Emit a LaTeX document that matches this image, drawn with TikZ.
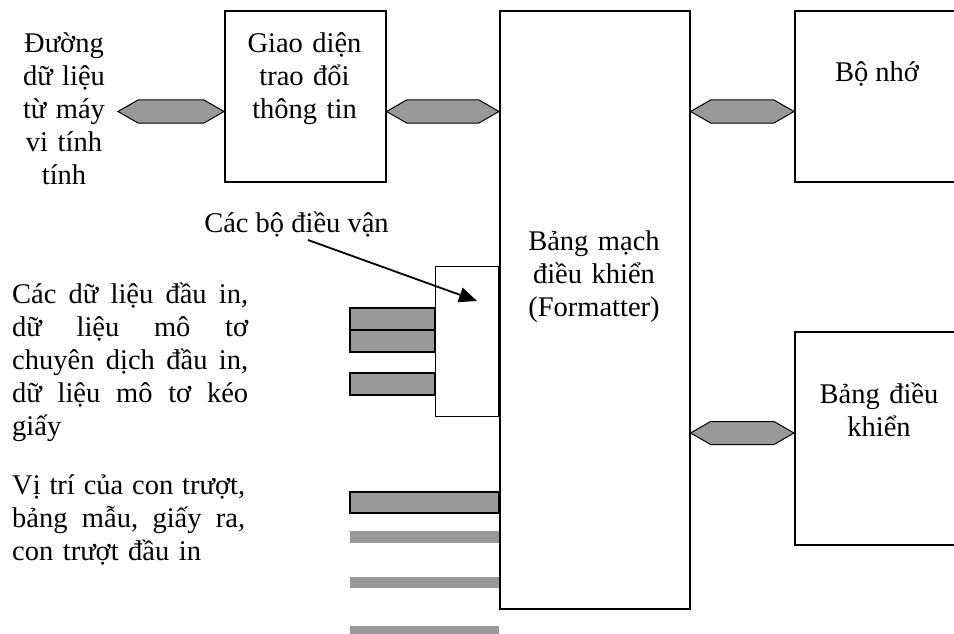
\documentclass[tikz,border=0pt]{standalone}
\usepackage{fontspec}
\setmainfont{Liberation Serif}
\usetikzlibrary{arrows.meta,calc}
\definecolor{barg}{HTML}{999999}
\lineskiplimit=-100pt
\newcommand\busline[2]{\draw[bus] (#1) -- ($(#1)+(20,-11.5)$) -- ($(#2)+(-20,-11.5)$) -- (#2) -- ($(#2)+(-20,11.5)$) -- ($(#1)+(20,11.5)$) -- cycle;}
\newcommand\jlineA[1]{\makebox[236pt][l]{#1}}
\newcommand\jlineB[1]{\makebox[233pt][l]{#1}}
\begin{document}
\begin{tikzpicture}[x=1pt,y=-1pt,
  box/.style={draw, line width=1.6pt, inner sep=0pt, anchor=north west},
  txt/.style={font=\fontsize{28.5}{33}\selectfont, inner sep=0pt, anchor=base, align=center},
  bar/.style={fill=barg, draw=black, line width=1.4pt},
  plainbar/.style={fill=barg},
  bus/.style={fill=barg, draw=black, line width=1pt}]
\useasboundingbox (0,0) rectangle (954,634);
\clip (0,0) rectangle (954,634);
% boxes
\node[box, minimum width=161pt, minimum height=171pt] (giao) at (224,10) {};
\node[box, minimum width=190pt, minimum height=598pt] (main) at (499,10) {};
\node[box, minimum width=200pt, minimum height=171pt] (mem) at (794,10) {};
\node[box, minimum width=200pt, minimum height=213pt] (panel) at (794,331) {};
\node[box, line width=1pt, minimum width=63pt, minimum height=150pt] (drv) at (435,266) {};
% bus connectors
\coordinate (pc) at (118,111.5);
\coordinate (ya) at (0,111.5);
\coordinate (yb) at (0,433);
\coordinate (g1) at (giao.west |- ya);
\coordinate (g2) at (giao.east |- ya);
\coordinate (m1) at (main.west |- ya);
\coordinate (m2) at (main.east |- ya);
\coordinate (r1) at (mem.west |- ya);
\coordinate (m3) at (main.east |- yb);
\coordinate (p1) at (panel.west |- yb);
\busline{pc}{g1}
\busline{g2}{m1}
\busline{m2}{r1}
\busline{m3}{p1}
% driver bars
\draw[bar] (350,308) rectangle (drv.west |- 0,330);
\draw[bar] (350,330) rectangle (drv.west |- 0,352);
\draw[bar] (350,373) rectangle (drv.west |- 0,395);
% sensor bars
\draw[bar] (350,492) rectangle (main.west |- 0,513);
\fill[plainbar] (350,531) rectangle (main.west |- 0,543);
\fill[plainbar] (350,577) rectangle (main.west |- 0,588);
\fill[plainbar] (350,626) rectangle (main.west |- 0,640);
% texts
\node[txt, text width=110pt] (t1) at (64,53) {Đường\\dữ liệu\\từ máy\\vi tính\\tính};
\node[txt, text width=150pt] (t2) at (304.5,53) {Giao diện\\trao đổi\\thông tin};
\node[txt] (t3) at (877,82) {Bộ nhớ};
\node[txt, text width=140pt] (t4) at (879,403) {Bảng điều\\khiển};
\node[txt, text width=180pt] (t5) at (594,250) {Bảng mạch\\điều khiển\\(Formatter)};
\node[txt] (t6) at (296.5,232) {Các bộ điều vận};
\node[txt, anchor=base west, text width=240pt, align=left] (t7) at (12,303)
  {\jlineA{Các\hfill dữ\hfill liệu\hfill đầu\hfill in,}\\
   \jlineA{dữ\hfill liệu\hfill mô\hfill tơ}\\
   \jlineA{chuyên\hfill dịch\hfill đầu\hfill in,}\\
   \jlineA{dữ\hfill liệu\hfill mô\hfill tơ\hfill kéo}\\
   giấy};
\node[txt, anchor=base west, text width=240pt, align=left] (t8) at (12,494)
  {\jlineB{Vị\hfill trí\hfill của\hfill con\hfill trượt,}\\
   \jlineB{bảng\hfill mẫu,\hfill giấy\hfill ra,}\\
   con trượt đầu in};
% arrow
\coordinate (as) at (308,240);
\coordinate (ae) at (477,301);
\draw[line width=1.8pt, -{Triangle[length=18pt,width=15pt]}] (as) -- (ae);
\end{tikzpicture}
\end{document}
